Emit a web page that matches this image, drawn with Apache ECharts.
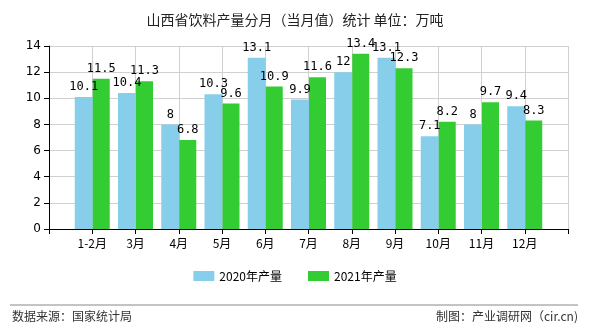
<!DOCTYPE html>
<html><head><meta charset="utf-8">
<script src="https://cdn.jsdelivr.net/npm/echarts@6/dist/echarts.min.js"></script>
<style>html,body{margin:0;padding:0;background:#fff}#c{width:590px;height:330px}</style>
</head><body><div id="c"></div>
<script>
const categories = ['', '1-2月', '3月', '4月', '5月', '6月', '7月', '8月', '9月', '10月', '11月', '12月', ''];
const values2020 = ['-', 10.1, 10.4, 8, 10.3, 13.1, 9.9, 12, 13.1, 7.1, 8, 9.4, '-'];
const values2021 = ['-', 11.5, 11.3, 6.8, 9.6, 10.9, 11.6, 13.4, 12.3, 8.2, 9.7, 8.3, '-'];
const yTicks = [0, 2, 4, 6, 8, 10, 12, 14];
const seriesNames = ['2020年产量', '2021年产量'];

const chart = echarts.init(document.getElementById('c'));
const labelStyle = {show: true, position: 'top', color: '#000', fontFamily: 'DejaVu Sans Mono', fontSize: 12, distance: 4};
chart.setOption({
  animation: false,
  title: {text: '山西省饮料产量分月（当月值）统计 单位：万吨', left: 'center', top: 8,
    textStyle: {fontSize: 14, fontWeight: 'normal', color: '#222', fontFamily: 'Noto Sans CJK SC'}},
  legend: {bottom: 43, icon: 'rect', itemWidth: 21, itemHeight: 10, itemGap: 26,
    textStyle: {fontSize: 12, color: '#000', fontFamily: 'Noto Sans CJK SC'}},
  grid: {left: 49, right: 22, top: 46, bottom: 101},
  xAxis: {type: 'category', data: categories, boundaryGap: false,
    axisLine: {lineStyle: {color: '#000'}},
    axisTick: {show: true, interval: 0, lineStyle: {color: '#000'}},
    axisLabel: {interval: 0, color: '#000', fontSize: 12, fontFamily: 'Noto Sans CJK SC', margin: 8},
    splitLine: {show: true, interval: 0, lineStyle: {color: '#d0d0d0'}}},
  yAxis: {type: 'value', min: yTicks[0], max: yTicks[yTicks.length - 1], interval: 2,
    axisLine: {show: true, lineStyle: {color: '#000'}},
    axisTick: {show: true, lineStyle: {color: '#000'}},
    axisLabel: {color: '#000', fontSize: 12, fontFamily: 'DejaVu Sans', margin: 8},
    splitLine: {lineStyle: {color: '#d0d0d0'}}},
  series: [
    {name: seriesNames[0], type: 'bar', data: values2020, barWidth: 18, barGap: '0%',
      itemStyle: {color: '#87CEEB'}, label: labelStyle},
    {name: seriesNames[1], type: 'bar', data: values2021, barWidth: 17,
      itemStyle: {color: '#33CC33'}, label: labelStyle}
  ],
  graphic: [
    {type: 'line', shape: {x1: 10, y1: 305, x2: 578, y2: 305}, style: {stroke: '#888', lineWidth: 1}},
    {type: 'text', left: 12, top: 310, style: {text: '数据来源：国家统计局', fill: '#333', fontSize: 12, fontFamily: 'Noto Sans CJK SC'}},
    {type: 'text', right: 12, top: 310, style: {text: '制图：产业调研网（cir.cn)', fill: '#333', fontSize: 12, fontFamily: 'Noto Sans CJK SC'}}
  ]
});
</script></body></html>
